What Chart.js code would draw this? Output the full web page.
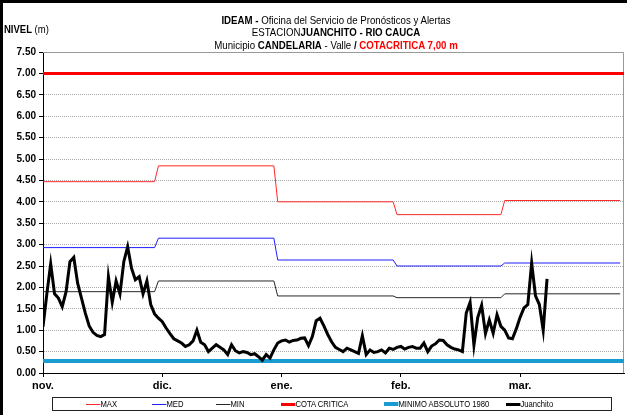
<!DOCTYPE html>
<html>
<head>
<meta charset="utf-8">
<script src="https://cdn.jsdelivr.net/npm/chart.js@4.4.0/dist/chart.umd.min.js"></script>
<style>
  body { margin: 0; width: 627px; height: 415px; overflow: hidden; background: #fff; position: relative;
         font-family: 'Liberation Sans Narrow', 'Liberation Sans', Arial, sans-serif; }
  #chartBox { position: absolute; left: 0; top: 0; width: 627px; height: 415px; }
  #frame { position: absolute; left: 0; top: 0; width: 627px; height: 415px; box-sizing: border-box;
           border-left: 3px solid #000; border-top: 3px solid #000; pointer-events: none; }
  .title { position: absolute; left: 0; width: 672px; text-align: center; font-size: 11px; color: #000; line-height: 12px;
           transform: scaleX(0.88); transform-origin: 336px 0; }
  #nivel { position: absolute; left: 4px; top: 24px; font-size: 10px; transform: scaleX(0.95); transform-origin: 0 0; }
  #legend { position: absolute; left: 52px; top: 397px; width: 560px; height: 14px; box-sizing: border-box;
            border: 1px solid #222; font-size: 8.5px; }
  .item { position: absolute; top: 0; height: 12px; line-height: 12px; white-space: nowrap;
          transform: scaleX(0.9); transform-origin: 0 0; }
  .swatch { display: inline-block; width: 16px; vertical-align: middle; margin-top: -1px; }
</style>
</head>
<body>
<div id="chartBox"><canvas id="myChart" width="627" height="415"></canvas></div>
<div class="title" style="top:14px"><b>IDEAM -</b> Oficina del Servicio de Pronósticos y Alertas</div>
<div class="title" style="top:26px">ESTACION<b>JUANCHITO - RIO CAUCA</b></div>
<div class="title" style="top:39px">Municipio <b>CANDELARIA</b> - Valle <b>/</b> <b style="color:#ff0000">COTACRITICA 7,00 m</b></div>
<div id="nivel"><b>NIVEL</b> (m)</div>
<div id="legend"></div>
<div id="frame"></div>
<script>
// meses del eje x y dias de cada mes
var months = ['nov.', 'dic.', 'ene.', 'feb.', 'mar.'];
var monthDays = [30, 31, 31, 28, 31];

// niveles historicos por mes (m)
var maxLevel = [4.47, 4.84, 4.00, 3.70, 4.03];
var medLevel = [2.93, 3.15, 2.64, 2.50, 2.57];
var minLevel = [1.90, 2.15, 1.80, 1.76, 1.85];
var cotaCritica = 7.00;
var minimoAbsoluto = 0.28;

// nivel diario Juanchito desde 1 nov.
var juanchito = [
  1.08, 1.85, 2.55, 1.85, 1.75, 1.55, 1.90, 2.60, 2.70, 2.10,
  1.75, 1.40, 1.10, 0.95, 0.88, 0.85, 0.90, 2.25, 1.65, 2.15,
  1.85, 2.60, 2.95, 2.45, 2.18, 2.25, 1.85, 2.15, 1.60, 1.38,
  1.28, 1.20, 1.05, 0.92, 0.80, 0.75, 0.70, 0.62, 0.66, 0.75,
  1.00, 0.72, 0.66, 0.50, 0.58, 0.66, 0.60, 0.54, 0.43, 0.66,
  0.52, 0.47, 0.50, 0.48, 0.43, 0.45, 0.38, 0.30, 0.43, 0.35,
  0.54, 0.70, 0.75, 0.77, 0.72, 0.76, 0.77, 0.81, 0.82, 0.64,
  0.85, 1.22, 1.28, 1.10, 0.90, 0.73, 0.60, 0.55, 0.50, 0.58,
  0.54, 0.50, 0.46, 0.87, 0.43, 0.54, 0.48, 0.50, 0.54, 0.47,
  0.58, 0.55, 0.60, 0.62, 0.56, 0.60, 0.62, 0.58, 0.58, 0.70,
  0.50, 0.63, 0.68, 0.77, 0.76, 0.66, 0.60, 0.56, 0.54, 0.50,
  1.40, 1.65, 0.65, 1.30, 1.58, 0.92, 1.24, 0.93, 1.36, 1.09,
  1.00, 0.82, 0.80, 1.03, 1.30, 1.52, 1.60, 2.57, 1.80, 1.60,
  1.00, 2.20
];

var tickDays = [0, 31, 62, 93, 124];
var lastDay = 151;

function monthSteps(values) {
  var pts = [], start = 0;
  for (var i = 0; i < values.length; i++) {
    pts.push({x: start, y: values[i]});
    pts.push({x: start + monthDays[i] - 1, y: values[i]});
    start += monthDays[i];
  }
  return pts;
}

var fontFam = "'Liberation Sans Narrow', 'Liberation Sans', Arial, sans-serif";

var datasets = [
  {label: 'MAX', data: monthSteps(maxLevel), borderColor: 'rgb(255, 40, 40)', borderWidth: 1},
  {label: 'MED', data: monthSteps(medLevel), borderColor: 'rgb(30, 30, 255)', borderWidth: 1},
  {label: 'MIN', data: monthSteps(minLevel), borderColor: 'rgb(40, 40, 40)', borderWidth: 1},
  {label: 'COTA CRITICA', data: [{x: 0, y: cotaCritica}, {x: lastDay, y: cotaCritica}], borderColor: 'rgb(255, 0, 0)', borderWidth: 3},
  {label: 'MINIMO ABSOLUTO 1980', data: [{x: 0, y: minimoAbsoluto}, {x: lastDay, y: minimoAbsoluto}], borderColor: 'rgb(24, 156, 210)', borderWidth: 4},
  {label: 'Juanchito', data: juanchito.map(function (v, i) { return {x: i, y: v}; }), borderColor: '#000', borderWidth: 3, order: 0}
];
datasets.forEach(function (d) {
  d.pointRadius = 0; d.tension = 0; d.fill = false;
  if (d.order === undefined) d.order = 1;
});

var plotFrame = {
  id: 'plotFrame',
  beforeDatasetsDraw: function (chart) {
    var a = chart.chartArea, c = chart.ctx;
    c.save();
    c.strokeStyle = '#999';
    c.lineWidth = 1;
    c.beginPath();
    c.moveTo(a.left, a.top + 0.5);
    c.lineTo(a.right - 0.5, a.top + 0.5);
    c.lineTo(a.right - 0.5, a.bottom);
    c.stroke();
    c.restore();
  }
};

var ctx = document.getElementById('myChart');
var myChart = new Chart(ctx, {
  type: 'line',
  data: {datasets: datasets},
  options: {
    responsive: false,
    animation: false,
    layout: {padding: {left: 0, top: 52, right: 3, bottom: 20}},
    plugins: {legend: {display: false}, tooltip: {enabled: false}},
    scales: {
      x: {
        type: 'linear', min: 0, max: lastDay,
        afterBuildTicks: function (s) { s.ticks = tickDays.map(function (v) { return {value: v}; }); },
        afterFit: function (s) { s.height = 22; },
        ticks: {
          autoSkip: false, maxRotation: 0, padding: 2, color: '#000',
          font: {family: fontFam, size: 11, weight: 'bold'},
          callback: function (v) { return months[tickDays.indexOf(v)]; }
        },
        grid: {drawOnChartArea: false, tickLength: 4, tickColor: '#000'},
        border: {color: '#000', width: 1}
      },
      y: {
        min: 0, max: 7.5,
        afterFit: function (s) { s.width = 43; },
        ticks: {
          stepSize: 0.5, padding: 3, color: '#000',
          font: {family: 'Liberation Sans, Arial, sans-serif', size: 10, weight: 'bold'},
          callback: function (v) { return v.toFixed(2); }
        },
        grid: {color: '#aaa', tickLength: 4, tickColor: '#000'},
        border: {color: '#000', width: 1, dash: [1, 1]}
      }
    }
  },
  plugins: [plotFrame]
});

// leyenda
var legendLeft = [33, 99, 163, 228, 331, 453];
var legend = document.getElementById('legend');
datasets.forEach(function (d, i) {
  var item = document.createElement('div');
  item.className = 'item';
  item.style.left = legendLeft[i] + 'px';
  var sw = document.createElement('span');
  sw.className = 'swatch';
  sw.style.borderTop = d.borderWidth + 'px solid ' + d.borderColor;
  item.appendChild(sw);
  item.appendChild(document.createTextNode(d.label));
  legend.appendChild(item);
});
</script>
</body>
</html>
